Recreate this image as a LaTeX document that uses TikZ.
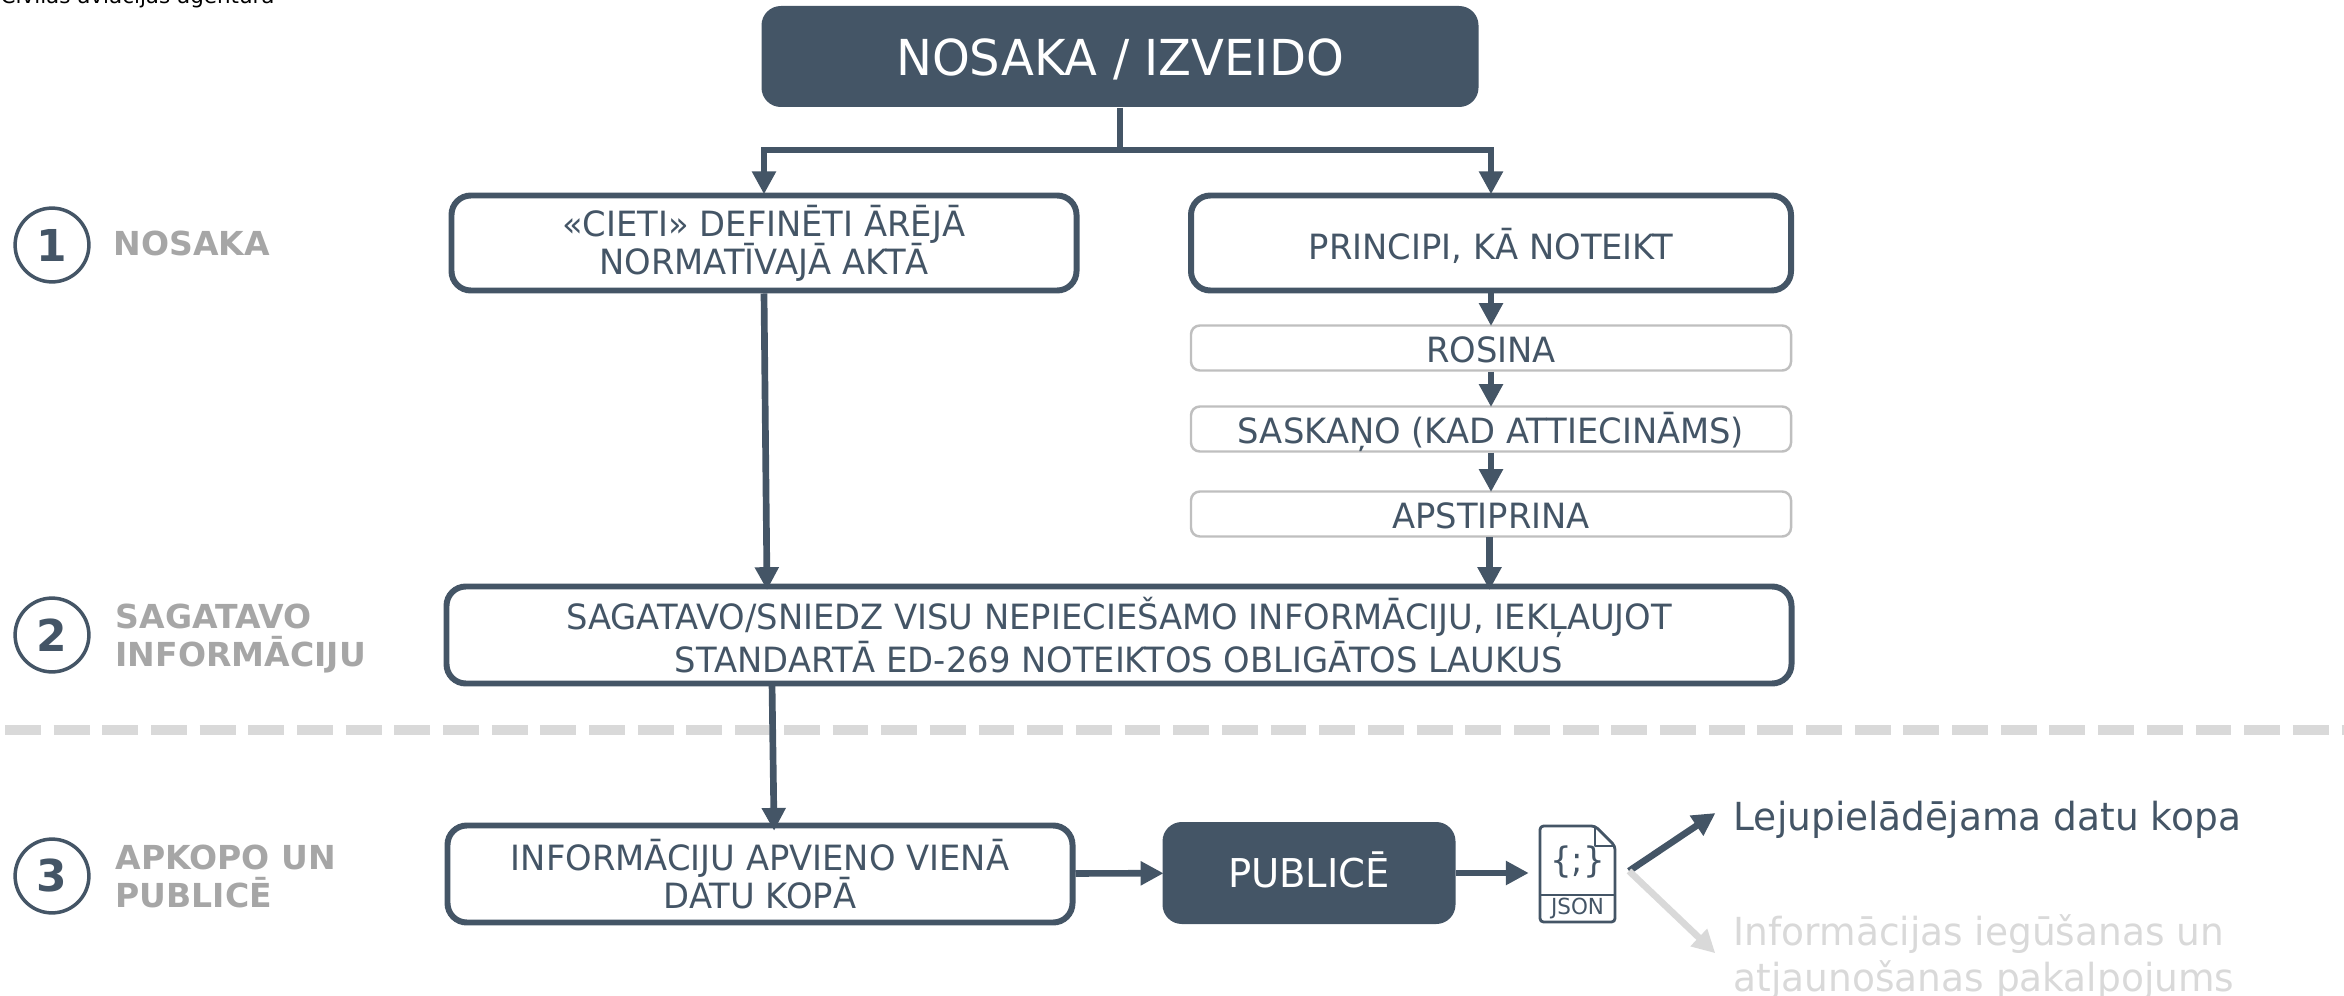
\documentclass[tikz,border=0pt]{standalone}
\usepackage{fontspec}
\setmainfont[FakeStretch=0.97]{DejaVu Sans}
\newfontfamily\phasefont{DejaVu Sans}
\usepackage{tikz}
\usetikzlibrary{arrows.meta}
\definecolor{slate}{HTML}{445566}
\definecolor{labelgrey}{HTML}{A6A6A6}
\definecolor{boxgrey}{HTML}{BFBFBF}
\definecolor{fadegrey}{HTML}{D9D9D9}
\tikzset{
    mainbox/.style = {draw = slate, line width = 1.7pt, rounded corners = 5.5pt, fill = white, text = slate, align = center, font = \fontsize{9.9}{10.9}\selectfont, inner sep = 0pt, execute at begin node = \rule{0pt}{10.5pt}},
    stepbox/.style = {draw = boxgrey, line width = 0.7pt, rounded corners = 2.5pt, fill = white, text = slate, font = \fontsize{9.9}{11.4}\selectfont, inner sep = 0pt, text height = 8pt, text depth = 0pt},
    darkbox/.style = {fill = slate, rounded corners = 5.5pt, text = white, inner sep = 0pt, text depth = 0pt},
    flow/.style = {draw = slate, line width = 1.9pt, -{Triangle[length = 6.5pt, width = 6.5pt]}, shorten > = -0.5pt},
    badge/.style = {circle, draw = slate, line width = 1pt, text = slate, minimum size = 21pt, inner sep = 0pt, font = \phasefont\fontsize{12.5}{14}\bfseries\selectfont},
    phase/.style = {text = labelgrey, anchor = west, align = left, inner sep = 0pt, font = \phasefont\fontsize{9.4}{10.8}\bfseries\selectfont}
}
\begin{document}
\begin{tikzpicture}
    \useasboundingbox (0,0) rectangle (23.44,9.95);
    % boxes, y runs up from the bottom edge
    \node [darkbox, minimum width = 7.17cm, minimum height = 1.01cm, text height = 10.6pt, font = \fontsize{14.1}{16}\selectfont] (define) at (11.2,9.385) {NOSAKA / IZVEIDO};
    \node [mainbox, minimum width = 6.25cm, minimum height = 0.95cm] (target) at (7.64,7.52) {«CIETI» DEFINĒTI ĀRĒJĀ\\NORMATĪVAJĀ AKTĀ};
    \node [mainbox, minimum width = 6.0cm, minimum height = 0.95cm] (rules) at (14.91,7.52) {PRINCIPI, KĀ NOTEIKT};
    \node [stepbox, minimum width = 6.0cm, minimum height = 0.45cm] (initiate) at (14.91,6.47) {ROSINA};
    \node [stepbox, minimum width = 6.0cm, minimum height = 0.45cm] (agree) at (14.91,5.66) {SASKAŅO (KAD ATTIECINĀMS)};
    \node [stepbox, minimum width = 6.0cm, minimum height = 0.45cm] (approve) at (14.91,4.81) {APSTIPRINA};
    \node [mainbox, minimum width = 13.45cm, minimum height = 0.97cm] (prepare) at (11.19,3.6) {SAGATAVO/SNIEDZ VISU NEPIECIEŠAMO INFORMĀCIJU, IEKĻAUJOT\\STANDARTĀ ED-269 NOTEIKTOS OBLIGĀTOS LAUKUS};
    \node [mainbox, minimum width = 6.25cm, minimum height = 0.97cm] (merge) at (7.6,1.21) {INFORMĀCIJU APVIENO VIENĀ\\DATU KOPĀ};
    \node [darkbox, minimum width = 2.93cm, minimum height = 1.02cm, text height = 8.2pt, font = \fontsize{11.3}{13}\selectfont] (publish) at (13.09,1.22) {PUBLICĒ};
    % json file icon
    \coordinate (file) at (15.4,0.73);
    \draw [slate, line width = 0.8pt, line join = round, rounded corners = 1pt] (file) -- (16.15,0.73) -- (16.15,1.49) -- (15.95,1.69) -- (15.4,1.69) -- cycle;
    \draw [slate, line width = 0.8pt, line join = round] (15.95,1.69) -- (15.95,1.49) -- (16.15,1.49);
    \draw [slate, line width = 0.8pt] (15.4,1.0) -- (16.15,1.0);
    \node [text = slate, inner sep = 0pt, font = \fontsize{6.3}{7}\selectfont] (json) at (15.775,0.87) {JSON};
    \node [text = slate, inner sep = 0pt, font = \fontsize{10}{11}\selectfont] (braces) at (15.775,1.33) {\{;\}};
    \coordinate (fork) at (16.29,1.24);
    \coordinate (download) at (17.14,1.81);
    \coordinate (service) at (17.14,0.43);
    % phases
    \node [badge] (one) at (0.52,7.5) {1};
    \node [phase] (onelabel) at (1.13,7.52) {NOSAKA};
    \node [badge] (two) at (0.52,3.6) {2};
    \node [phase] (twolabel) at (1.15,3.56) {SAGATAVO\\INFORMĀCIJU};
    \node [badge] (three) at (0.52,1.19) {3};
    \node [phase] (threelabel) at (1.15,1.19) {APKOPO UN\\PUBLICĒ};
    \node [text = slate, anchor = west, inner sep = 0pt, font = \fontsize{11}{12}\selectfont] (dataset) at (17.33,1.75) {Lejupielādējama datu kopa};
    \node [text = fadegrey, anchor = west, align = left, inner sep = 0pt, font = \fontsize{11}{13}\selectfont] (retrieval) at (17.33,0.38) {Informācijas iegūšanas un\\atjaunošanas pakalpojums};
    \node [anchor = west, inner sep = 0pt, font = \phasefont\fontsize{6.1}{7}\selectfont] (agency) at (0,9.98) {Civilās aviācijas aģentūra};
    % connectors
    \draw [fadegrey, line width = 3pt, dash pattern = on 10.2pt off 3.65pt] (0.05,2.65) -- (23.44,2.65);
    \coordinate (split) at (11.2,8.45);
    \draw [slate, line width = 1.9pt] (define.south) -- (split);
    \draw [flow] (split) -| (target.north);
    \draw [flow] (split) -| (rules.north);
    \draw [flow] (rules) -- (initiate);
    \draw [flow] (initiate) -- (agree);
    \draw [flow] (agree) -- (approve);
    \draw [flow, shorten > = -1pt] (14.895,4.58) -- (14.895,4.085);
    \draw [flow, shorten > = -1pt] (target.south) -- (7.67,4.085);
    \draw [flow, shorten > = -1.5pt] (7.72,3.12) -- (7.74,1.695);
    \draw [flow] (merge) -- (publish);
    \draw [flow] (publish) -- (15.27,1.22);
    \draw [flow] (fork) -- (download);
    \draw [flow, draw = fadegrey, fill = fadegrey] (fork) -- (service);
\end{tikzpicture}
\end{document}
